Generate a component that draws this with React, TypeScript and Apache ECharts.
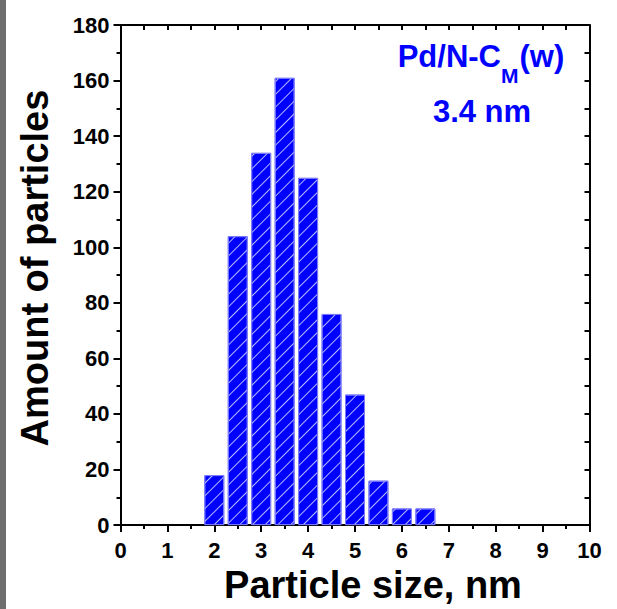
import React, { useEffect, useRef } from "react";
import * as echarts from "echarts";

// Data
const binCenters = [2.0, 2.5, 3.0, 3.5, 4.0, 4.5, 5.0, 5.5, 6.0, 6.5];
const particleCounts = [18, 104, 134, 161, 125, 76, 47, 16, 6, 6];
const xRange = [0, 10];
const yRange = [0, 180];
const xTitle = "Particle size, nm";
const yTitle = "Amount of particles";
const sampleMain = "Pd/N-C";
const sampleSub = "M";
const sampleTail = "(w)";
const meanSize = "3.4 nm";

const FONT = "'Liberation Sans', Arial, Helvetica, sans-serif";
const BLUE = "#0000ff";

export default function App() {
  const ref = useRef<HTMLDivElement>(null);
  useEffect(() => {
    if (!ref.current) return;
    const chart = echarts.init(ref.current, null, { renderer: "svg" });
    const black = { color: "#000", width: 2 };
    const option: any = {
      animation: false,
      backgroundColor: "#fff",
      grid: { left: 120.5, right: 27.5, top: 25, bottom: 80, containLabel: false },
      xAxis: [
        {
          type: "value",
          min: xRange[0],
          max: xRange[1],
          interval: 1,
          position: "bottom",
          axisLine: { show: true, onZero: false, lineStyle: black },
          axisTick: { show: true, inside: false, length: 7, lineStyle: black },
          minorTick: { show: true, splitNumber: 2, length: 4, lineStyle: black },
          splitLine: { show: false },
          minorSplitLine: { show: false },
          axisLabel: { fontSize: 22, fontWeight: "bold", color: "#000", fontFamily: FONT, margin: 14 },
          name: xTitle,
          nameLocation: "middle",
          nameGap: 34,
          nameTextStyle: { fontSize: 38, fontWeight: "bold", color: "#000", fontFamily: FONT, padding: [0, 0, 0, 36] },
        },
        {
          type: "value",
          min: xRange[0],
          max: xRange[1],
          interval: 1,
          position: "top",
          axisLine: { show: true, onZero: false, lineStyle: black },
          axisTick: { show: true, inside: true, length: 5, lineStyle: black },
          minorTick: { show: true, splitNumber: 2, length: 5, lineStyle: black },
          splitLine: { show: false },
          axisLabel: { show: false },
        },
      ],
      yAxis: [
        {
          type: "value",
          min: yRange[0],
          max: yRange[1],
          interval: 20,
          position: "left",
          axisLine: { show: true, onZero: false, lineStyle: black },
          axisTick: { show: true, inside: false, length: 7, lineStyle: black },
          minorTick: { show: true, splitNumber: 2, length: 4, lineStyle: black },
          splitLine: { show: false },
          minorSplitLine: { show: false },
          axisLabel: { fontSize: 22, fontWeight: "bold", color: "#000", fontFamily: FONT, margin: 11 },
          name: yTitle,
          nameLocation: "middle",
          nameGap: 67,
          nameTextStyle: { fontSize: 38, fontWeight: "bold", color: "#000", fontFamily: FONT, padding: [0, 0, 0, 14] },
        },
        {
          type: "value",
          min: yRange[0],
          max: yRange[1],
          interval: 20,
          position: "right",
          axisLine: { show: true, onZero: false, lineStyle: black },
          axisTick: { show: true, inside: true, length: 5, lineStyle: black },
          minorTick: { show: true, splitNumber: 2, length: 5, lineStyle: black },
          splitLine: { show: false },
          axisLabel: { show: false },
        },
      ],
      series: [
        {
          type: "bar",
          xAxisIndex: 0,
          yAxisIndex: 0,
          barWidth: 20,
          data: binCenters.map((c, i) => [c, particleCounts[i]]),
          itemStyle: {
            color: BLUE,
            borderColor: "#7a7aff",
            borderWidth: 1,
            decal: {
              symbol: "rect",
              symbolSize: 1,
              color: "rgba(215,215,255,0.85)",
              dashArrayX: [1, 0],
              dashArrayY: [1, 8],
              rotation: -Math.PI / 4,
            },
          },
        },
      ],
      graphic: [
        { type: "rect", left: 0, top: 0, shape: { width: 6, height: 609 }, style: { fill: "#6e6e6e" } },
        {
          type: "text",
          x: 501,
          y: 56,
          style: { text: sampleMain, fill: BLUE, font: `bold 31px ${FONT}`, align: "right", verticalAlign: "middle" },
        },
        {
          type: "text",
          x: 501,
          y: 75,
          style: { text: sampleSub, fill: BLUE, font: `bold 21px ${FONT}`, align: "left", verticalAlign: "middle" },
        },
        {
          type: "text",
          x: 519.5,
          y: 56,
          style: { text: sampleTail, fill: BLUE, font: `bold 31px ${FONT}`, align: "left", verticalAlign: "middle" },
        },
        {
          type: "text",
          x: 482,
          y: 111,
          style: { text: meanSize, fill: BLUE, font: `bold 31px ${FONT}`, align: "center", verticalAlign: "middle" },
        },
      ],
    };
    chart.setOption(option);
    return () => chart.dispose();
  }, []);
  return (
    <div
      ref={ref}
      style={{ position: "absolute", left: 0, top: 0, width: 617, height: 609 }}
    />
  );
}
